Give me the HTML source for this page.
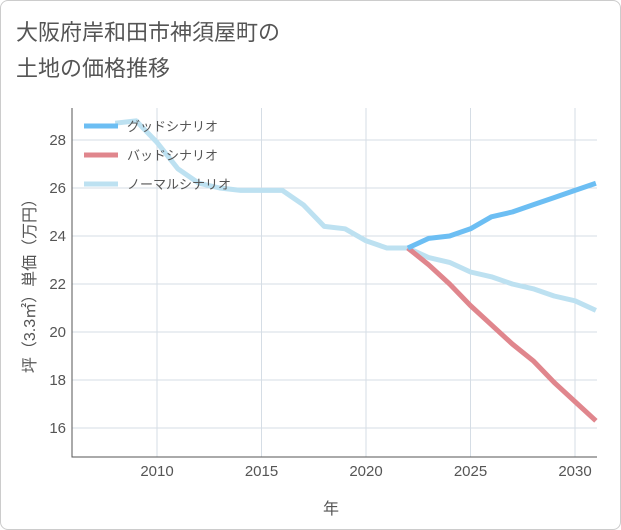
<!DOCTYPE html>
<html><head><meta charset="utf-8"><style>
body{margin:0;background:#fff;font-family:"Liberation Sans","Noto Sans CJK JP",sans-serif}
#wrap{position:absolute;left:0;top:0;width:619px;height:528px;border:1px solid #ccc;border-radius:8px;background:#fff}
</style></head><body>
<div id="wrap"></div>
<svg id="c" width="621" height="530" style="position:absolute;left:0;top:0">
<text x="16" y="40" font-size="22" fill="#555">大阪府岸和田市神須屋町の</text>
<text x="16" y="76" font-size="22" fill="#555">土地の価格推移</text>
<text x="331" y="514" font-size="16" fill="#555" text-anchor="middle">年</text>
<text transform="translate(35,282) rotate(-90)" font-size="16" fill="#555" text-anchor="middle">坪（3.3㎡）単価（万円）</text>
<g id="grid"></g><g id="lines"></g><g id="legend"></g>
</svg>
<script>
const xTicks=[2010,2015,2020,2025,2030];
const yTicks=[16,18,20,22,24,26,28];
const normalYears=[2008,2009,2010,2011,2012,2013,2014,2015,2016,2017,2018,2019,2020,2021,2022,2023,2024,2025,2026,2027,2028,2029,2030,2031];
const normalVals=[28.7,28.8,27.9,26.8,26.2,26.0,25.9,25.9,25.9,25.3,24.4,24.3,23.8,23.5,23.5,23.1,22.9,22.5,22.3,22.0,21.8,21.5,21.3,20.9];
const scenarioYears=[2022,2023,2024,2025,2026,2027,2028,2029,2030,2031];
const goodVals=[23.5,23.9,24.0,24.3,24.8,25.0,25.3,25.6,25.9,26.2];
const badVals=[23.5,22.8,22.0,21.1,20.3,19.5,18.8,17.9,17.1,16.3];
const X0=72,X1=597,Y0=108,Y1=457;
const x=y=>157+(y-2010)*20.9;
const yv=v=>428-(v-16)*24;
const NS="http://www.w3.org/2000/svg";
function mk(t,a,p){const e=document.createElementNS(NS,t);for(const k in a)e.setAttribute(k,a[k]);p.appendChild(e);return e;}
const g=document.getElementById('grid');
xTicks.forEach(t=>{
 const l=mk('line',{x1:x(t),x2:x(t),y1:Y0,y2:Y1,stroke:'#d5dde5'},g);
 
 
 const tx=mk('text',{x:x(t),y:476,'font-size':15,fill:'#555','text-anchor':'middle'},g);tx.textContent=t;
 
 
});
yTicks.forEach(t=>{
 const l=mk('line',{x1:X0,x2:X1,y1:yv(t),y2:yv(t),stroke:'#d5dde5'},g);
 
 
 const tx=mk('text',{x:66,y:yv(t)+5,'font-size':15,fill:'#555','text-anchor':'end'},g);tx.textContent=t;
 
 
});
const ax=mk('path',{d:`M${X0} ${Y0}V${Y1}H${X1}`,stroke:'#555',fill:'none'},g);


const L=document.getElementById('lines');
function line(ys,vs,col,name){
 const p=mk('polyline',{points:ys.map((t,i)=>x(t)+','+yv(vs[i])).join(' '),fill:'none',stroke:col,'stroke-width':5,'stroke-linejoin':'round'},L);
 
 
}
line(normalYears,normalVals,'#bde1f1','normal-scenario-line');
line(scenarioYears,badVals,'#e0868d','bad-scenario-line');
line(scenarioYears,goodVals,'#6cbef3','good-scenario-line');
const lg=document.getElementById('legend');
[['グッドシナリオ','#6cbef3'],['バッドシナリオ','#e0868d'],['ノーマルシナリオ','#bde1f1']].forEach((d,i)=>{
 const yy=126+i*29;
 const l=mk('line',{x1:84,x2:118,y1:yy,y2:yy,stroke:d[1],'stroke-width':5},lg);
 
 
 const t=mk('text',{x:127,y:yy+5,'font-size':13,fill:'#555'},lg);t.textContent=d[0];
 
 
});
</script>
</body></html>
